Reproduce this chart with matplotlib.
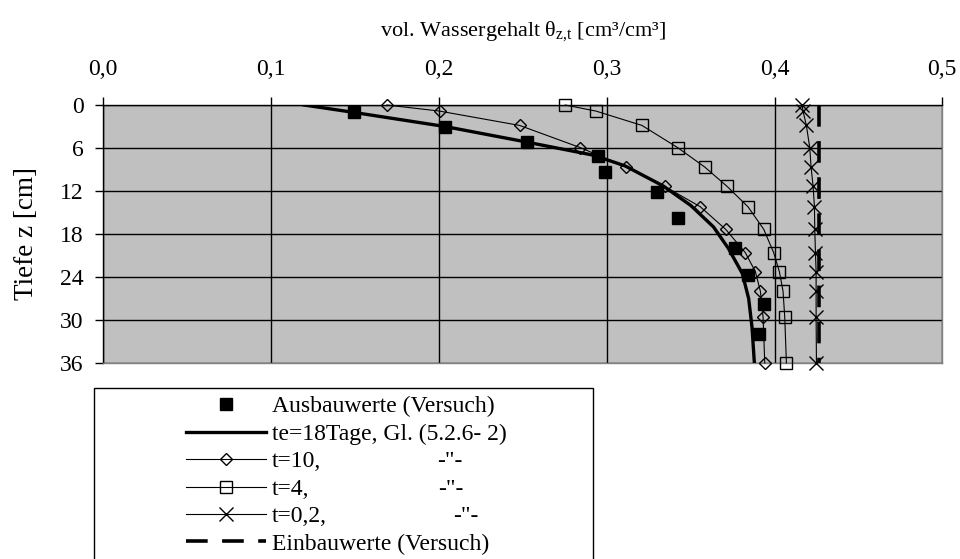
import matplotlib
matplotlib.use("Agg")
import matplotlib.pyplot as plt
from matplotlib.patches import Rectangle

plt.rcParams['font.family'] = ['Liberation Serif', 'DejaVu Serif']
plt.rcParams['mathtext.fontset'] = 'custom'
plt.rcParams['mathtext.rm'] = 'Liberation Serif'
plt.rcParams['mathtext.it'] = 'Liberation Serif'

# Depths of the computed profiles [cm]
depth_calc = [0, 0.85, 2.85, 5.95, 8.65, 11.35, 14.2, 17.35, 20.6, 23.25, 26.0, 29.6, 36]
theta_t10 = [0.1690, 0.2004, 0.2481, 0.2843, 0.3114, 0.3345, 0.3558, 0.3709,
             0.3826, 0.3886, 0.3916, 0.3932, 0.3942]
theta_t4 = [0.2753, 0.2936, 0.3210, 0.3423, 0.3584, 0.3717, 0.3842, 0.3936,
            0.3995, 0.4029, 0.4051, 0.4061, 0.4071]
theta_t02 = [0.4164, 0.4170, 0.4190, 0.4210, 0.4218, 0.4230, 0.4238, 0.4240,
             0.4244, 0.4248, 0.4248, 0.4248, 0.4250]

# te = 18 days, Gl. (5.2.6-2)
depth_te = [0, 1, 3, 5, 7, 8.5, 11.3, 14, 17, 20, 23.5, 27, 31, 36]
theta_te = [0.1197, 0.1483, 0.2036, 0.2485, 0.2920, 0.3110, 0.3337, 0.3500,
            0.3636, 0.3725, 0.3808, 0.3846, 0.3866, 0.3880]

# Measured values after removal (Ausbauwerte)
depth_aus = [1.02, 3.03, 5.12, 7.07, 9.31, 12.2, 15.7, 20.0, 23.7, 27.8, 31.9]
theta_aus = [0.1495, 0.2036, 0.2528, 0.2946, 0.2992, 0.3300, 0.3423, 0.3763,
             0.3843, 0.3936, 0.3910]

# Initial values (Einbauwerte)
depth_ein = [0, 36]
theta_ein = [0.4264, 0.4264]

x_ticks = [0.0, 0.1, 0.2, 0.3, 0.4, 0.5]
x_tick_labels = ['0,0', '0,1', '0,2', '0,3', '0,4', '0,5']
y_ticks = [0, 6, 12, 18, 24, 30, 36]
y_tick_labels = ['0', '6', '12', '18', '24', '30', '36']

legend_labels = ['Ausbauwerte (Versuch)', 'te=18Tage, Gl. (5.2.6- 2)',
                 't=10,', 't=4,', 't=0,2,', 'Einbauwerte (Versuch)']
ditto_text = '-"-'

W, H = 960, 559
fig = plt.figure(figsize=(W / 100, H / 100), dpi=100)
ax = fig.add_axes([103.3 / W, 1 - 363 / H, 839 / W, 258 / H])
ax.set_facecolor('#C0C0C0')

fs_tick = 17
fs_leg = 17
fs_title = 16
fs_ylab = 19.5

l_aus, = ax.plot(theta_aus, depth_aus, linestyle='none', marker='s', ms=8.5,
                 mfc='black', mec='black', clip_on=False, zorder=6)
l_te, = ax.plot(theta_te, depth_te, color='black', lw=2.4, zorder=5)
l_t10, = ax.plot(theta_t10, depth_calc, color='black', lw=0.8,
                 marker='D', ms=6.3, mfc='none', mec='black', mew=1.0,
                 clip_on=False, zorder=4)
l_t4, = ax.plot(theta_t4, depth_calc, color='black', lw=0.8,
                marker='s', ms=8, mfc='none', mec='black', mew=1.0,
                clip_on=False, zorder=4)
l_t02, = ax.plot(theta_t02, depth_calc, color='black', lw=0.8,
                 marker='x', ms=9.5, mec='black', mew=1.0,
                 clip_on=False, zorder=4)
l_ein, = ax.plot(theta_ein, depth_ein, color='black', lw=2.6,
                 dashes=(6, 4), zorder=4)

ax.set_xlim(0, 0.5)
ax.set_ylim(36, 0)
ax.set_xticks(x_ticks)
ax.set_xticklabels(x_tick_labels, fontsize=fs_tick)
ax.set_yticks(y_ticks)
ax.set_yticklabels(y_tick_labels, fontsize=fs_tick)
ax.xaxis.tick_top()
ax.xaxis.set_label_position('top')
ax.tick_params(axis='x', direction='out', length=6, width=1, pad=12)
ax.tick_params(axis='y', direction='out', length=6, width=1, pad=8)
ax.grid(True, color='black', lw=1.0)
ax.set_axisbelow(True)
for side in ('left', 'top'):
    ax.spines[side].set_color('black')
    ax.spines[side].set_linewidth(1.0)
for side in ('right', 'bottom'):
    ax.spines[side].set_color('#808080')
    ax.spines[side].set_linewidth(1.0)

ax.set_xlabel('vol. Wassergehalt θ$_{\\text{z,t}}$ [cm³/cm³]', fontsize=fs_title, labelpad=17)
ax.set_ylabel('Tiefe z [cm]', fontsize=fs_ylab, labelpad=15)

# Legend frame and entries
fig.patches.append(Rectangle((94 / W, -0.05), (593 - 94) / W, 1 - 388 / H + 0.05,
                             transform=fig.transFigure, facecolor='white',
                             edgecolor='black', lw=1.0))
handles = [l_aus, l_te, l_t10, l_t4, l_t02, l_ein]
leg = fig.legend(handles, legend_labels, loc='upper left',
                 bbox_to_anchor=(186 / W, 1 - 396 / H), frameon=False,
                 fontsize=fs_leg, handlelength=3.4, handletextpad=0.25,
                 labelspacing=0.25, borderpad=0, borderaxespad=0)

# Ditto marks after the t-series labels
fig.canvas.draw()
ditto_x = {2: 437, 3: 438, 4: 453}
for idx, xpx in ditto_x.items():
    bb = leg.get_texts()[idx].get_window_extent()
    fig.text(xpx / W, bb.y0 / H, ditto_text, fontsize=fs_leg,
             ha='left', va='bottom')

fig.savefig('out.png', dpi=100)
